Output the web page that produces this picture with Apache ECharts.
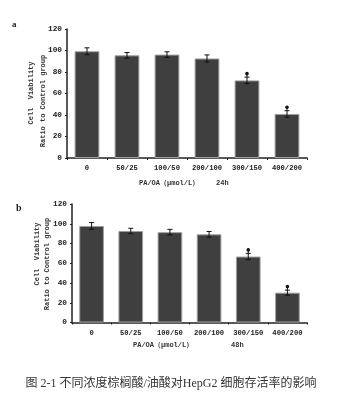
<!DOCTYPE html>
<html><head><meta charset="utf-8">
<script src="https://cdn.jsdelivr.net/npm/echarts@6/dist/echarts.min.js"></script>
<style>html,body{margin:0;padding:0;background:#fff;}#c{width:345px;height:396px;}</style>
</head><body><div id="c"></div>
<script>
const categories = ['0','50/25','100/50','200/100','300/150','400/200'];
const yTicks = [0,20,40,60,80,100,120];
const valuesA = [99.3, 95.5, 96.2, 92.6, 72.2, 41.0];
const errorsA = [3.2, 2.6, 2.6, 3.3, 3.0, 3.0];
const signifA = [0,0,0,0,1,1];
const valuesB = [97.8, 92.7, 91.5, 89.3, 66.8, 30.2];
const errorsB = [3.4, 2.7, 2.8, 2.9, 3.2, 2.6];
const signifB = [0,0,0,0,1,1];

const MONO = '"Liberation Mono","DejaVu Sans Mono",monospace';
const chart = echarts.init(document.getElementById('c'), null, {renderer:'canvas'});

function errData(vals, errs, sig){ return vals.map((v,i)=>[i, v, errs[i], sig[i]]); }
function renderErr(params, api){
  const x = api.value(0), y = api.value(1), e = api.value(2), s = api.value(3);
  const top = api.coord([x, y+e]), bot = api.coord([x, y-e]);
  const cw = 2.5;
  const st = {stroke:'#111', lineWidth:1};
  const ch = [
    {type:'line', shape:{x1:top[0],y1:top[1],x2:bot[0],y2:bot[1]}, style:st},
    {type:'line', shape:{x1:top[0]-cw,y1:top[1],x2:top[0]+cw,y2:top[1]}, style:st},
    {type:'line', shape:{x1:bot[0]-cw,y1:bot[1],x2:bot[0]+cw,y2:bot[1]}, style:st}
  ];
  if (s) {
    ch.push({type:'line', shape:{x1:top[0],y1:top[1],x2:top[0],y2:top[1]-3}, style:st});
    ch.push({type:'circle', shape:{cx:top[0], cy:top[1]-3.5, r:1.8}, style:{fill:'#111'}});
  }
  return {type:'group', children:ch};
}
function xAx(idx){
  return {type:'category', gridIndex:idx, data:categories,
    axisLine:{lineStyle:{color:'#222', width:1.5}},
    axisTick:{show:true, length:2, lineStyle:{color:'#222'}},
    axisLabel:{interval:0, hideOverlap:false, fontFamily:MONO, fontSize:7.2, fontWeight:'bold', color:'#222', margin:7}};
}
function yAx(idx){
  return {type:'value', gridIndex:idx, min:yTicks[0], max:yTicks[yTicks.length-1], interval:20,
    splitLine:{show:false},
    axisLine:{show:true, lineStyle:{color:'#222', width:1.5}},
    axisTick:{show:true, length:2, lineStyle:{color:'#222'}},
    axisLabel:{fontFamily:MONO, fontSize:7.8, fontWeight:'bold', color:'#222', margin:5}};
}
const barStyle = {color:'#3f3f3f', borderColor:'#a0a0a0', borderWidth:1};
const titleStyle = {fontFamily:MONO, fontSize:7, fontWeight:'bold', fill:'#333'};

chart.setOption({
  animation:false,
  grid:[{left:67, top:29, width:240, height:129},{left:72, top:204, width:235, height:118.5}],
  xAxis:[xAx(0), xAx(1)],
  yAxis:[yAx(0), yAx(1)],
  series:[
    {type:'bar', xAxisIndex:0, yAxisIndex:0, data:valuesA, barWidth:'62%', itemStyle:barStyle},
    {type:'custom', xAxisIndex:0, yAxisIndex:0, data:errData(valuesA, errorsA, signifA), renderItem:renderErr, z:5},
    {type:'bar', xAxisIndex:1, yAxisIndex:1, data:valuesB, barWidth:'63%', itemStyle:barStyle},
    {type:'custom', xAxisIndex:1, yAxisIndex:1, data:errData(valuesB, errorsB, signifB), renderItem:renderErr, z:5}
  ],
  graphic:[
    {type:'text', left:12, top:20, style:{text:'a', font:'bold 9px "Liberation Serif"', fill:'#222'}},
    {type:'text', left:16, top:203, style:{text:'b', font:'bold 10px "Liberation Serif"', fill:'#222'}},
    {type:'text', x:31, y:93, rotation:Math.PI/2, style:Object.assign({text:'Cell  Viability', align:'center', verticalAlign:'middle'}, titleStyle)},
    {type:'text', x:43, y:101, rotation:Math.PI/2, style:Object.assign({text:'Ratio to Control group', align:'center', verticalAlign:'middle'}, titleStyle)},
    {type:'text', x:37, y:254, rotation:Math.PI/2, style:Object.assign({text:'Cell  Viability', align:'center', verticalAlign:'middle'}, titleStyle)},
    {type:'text', x:47, y:264, rotation:Math.PI/2, style:Object.assign({text:'Ratio to Control group', align:'center', verticalAlign:'middle'}, titleStyle)},
    {type:'text', x:139, y:183, style:Object.assign({text:'PA/OA（μmol/L）    24h', align:'left', verticalAlign:'middle'}, titleStyle)},
    {type:'text', x:133, y:345, style:Object.assign({text:'PA/OA（μmol/L）', align:'left', verticalAlign:'middle'}, titleStyle)},
    {type:'text', x:231, y:345, style:Object.assign({text:'48h', align:'left', verticalAlign:'middle'}, titleStyle)},
    {type:'text', x:171, y:384, style:{text:'图 2-1 不同浓度棕榈酸/油酸对HepG2 细胞存活率的影响', align:'center', verticalAlign:'middle', font:'12px "Liberation Serif","Noto Sans CJK SC"', fill:'#333'}}
  ]
});
</script></body></html>
